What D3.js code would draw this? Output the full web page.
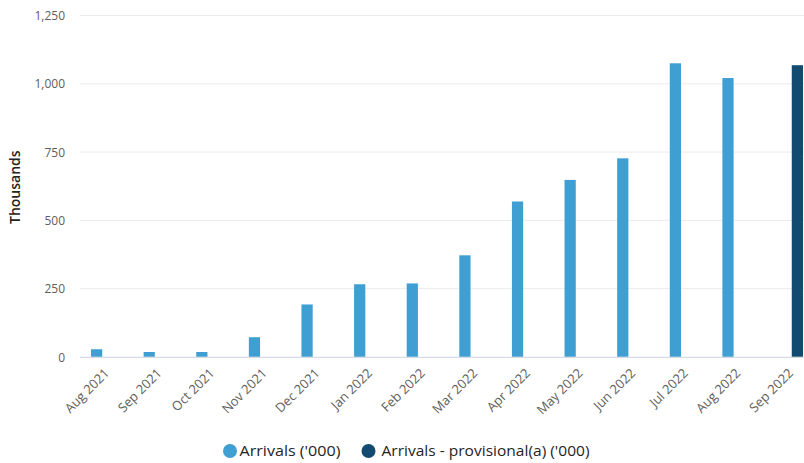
<!DOCTYPE html>
<html>
<head>
<meta charset="utf-8">
<script src="https://cdn.jsdelivr.net/npm/d3@7"></script>
<style>
  html, body { margin: 0; padding: 0; background: #ffffff; }
  svg { display: block; font-family: "Open Sans", "Noto Sans", sans-serif; }
</style>
</head>
<body>
<svg id="chart" width="804" height="463"></svg>
<script>
// Monthly arrivals, in thousands
const months = ["Aug 2021", "Sep 2021", "Oct 2021", "Nov 2021", "Dec 2021", "Jan 2022",
                "Feb 2022", "Mar 2022", "Apr 2022", "May 2022", "Jun 2022", "Jul 2022",
                "Aug 2022", "Sep 2022"];
const arrivals = [28, 18, 18, 72, 192, 266, 269, 372, 569, 648, 727, 1075, 1021, null];
const provisional = [null, null, null, null, null, null, null, null, null, null, null, null, null, 1068];
const seriesNames = ["Arrivals ('000)", "Arrivals - provisional(a) ('000)"];
const seriesColors = ["#3f9fd3", "#134a6f"];
const yTicks = [0, 250, 500, 750, 1000, 1250];

const svg = d3.select("#chart");
const plotLeft = 80, plotRight = 804;
const yTop = 15.5, yBottom = 356.9;

const x = d3.scaleBand().domain(months).range([78.7, 815.3]).padding(0);
const sub = d3.scaleBand().domain(seriesNames).range([-14, 14]).paddingInner(0.33).paddingOuter(0);
const y = d3.scaleLinear().domain([0, 1250]).range([yBottom, yTop]);

// horizontal gridlines
svg.append("g")
  .selectAll("line")
  .data(yTicks.filter(t => t !== 0))
  .join("line")
  .attr("x1", plotLeft).attr("x2", plotRight)
  .attr("y1", d => y(d)).attr("y2", d => y(d))
  .attr("stroke", "#ebebeb").attr("stroke-width", 1);

// y axis labels
const yAxis = d3.axisLeft(y).tickValues(yTicks).tickSize(0).tickPadding(0)
  .tickFormat(d3.format(","));
svg.append("g")
  .attr("transform", "translate(65,0)")
  .call(yAxis)
  .call(g => g.select(".domain").remove())
  .selectAll("text")
  .attr("fill", "#605e5c")
  .attr("font-size", 12)
  .attr("font-family", "'Open Sans', sans-serif")
  .attr("dy", "0.35em");

// y axis title
svg.append("text")
  .attr("transform", `translate(20,${(yTop + yBottom) / 2 + 1}) rotate(-90)`)
  .attr("text-anchor", "middle")
  .attr("fill", "#252423")
  .attr("font-size", 14)
  .attr("font-weight", 600)
  .text("Thousands");

// bars
const rows = months.map((m, i) => ({ month: m, values: [arrivals[i], provisional[i]] }));
const groups = svg.append("g").selectAll("g")
  .data(rows)
  .join("g")
  .attr("transform", d => `translate(${x(d.month) + x.bandwidth() / 2},0)`);

groups.selectAll("rect")
  .data(d => d.values.map((v, k) => ({ key: seriesNames[k], value: v, k })).filter(e => e.value != null))
  .join("rect")
  .attr("x", d => sub(d.key))
  .attr("width", sub.bandwidth())
  .attr("y", d => y(d.value))
  .attr("height", d => y(0) - y(d.value))
  .attr("fill", d => seriesColors[d.k]);

// baseline
svg.append("line")
  .attr("x1", plotLeft).attr("x2", plotRight)
  .attr("y1", y(0) + 0.5).attr("y2", y(0) + 0.5)
  .attr("stroke", "#d6dbe6").attr("stroke-width", 1.2);

// x axis labels
const xAxis = d3.axisBottom(x).tickSize(0).tickPadding(0);
svg.append("g")
  .attr("transform", `translate(0,${yBottom})`)
  .call(xAxis)
  .call(g => g.select(".domain").remove())
  .selectAll("text")
  .attr("fill", "#605e5c")
  .attr("font-size", 13)
  .attr("font-family", "'Open Sans', sans-serif")
  .attr("text-anchor", "end")
  .attr("dy", null)
  .attr("y", 0)
  .attr("transform", "translate(5,17) rotate(-45)");

// legend
const legendItems = [
  { name: seriesNames[0], color: seriesColors[0], cx: 230, tx: 239.5, len: 101 },
  { name: seriesNames[1], color: seriesColors[1], cx: 368.5, tx: 381.5, len: 208 }
];
const legend = svg.append("g");
legend.selectAll("circle")
  .data(legendItems)
  .join("circle")
  .attr("cx", d => d.cx).attr("cy", 451)
  .attr("r", 7)
  .attr("fill", d => d.color);
legend.selectAll("text")
  .data(legendItems)
  .join("text")
  .attr("x", d => d.tx).attr("y", 451)
  .attr("dy", "0.35em")
  .attr("fill", "#252423")
  .attr("font-size", 15)
  .attr("textLength", d => d.len)
  .attr("lengthAdjust", "spacingAndGlyphs")
  .text(d => d.name);
</script>
</body>
</html>
